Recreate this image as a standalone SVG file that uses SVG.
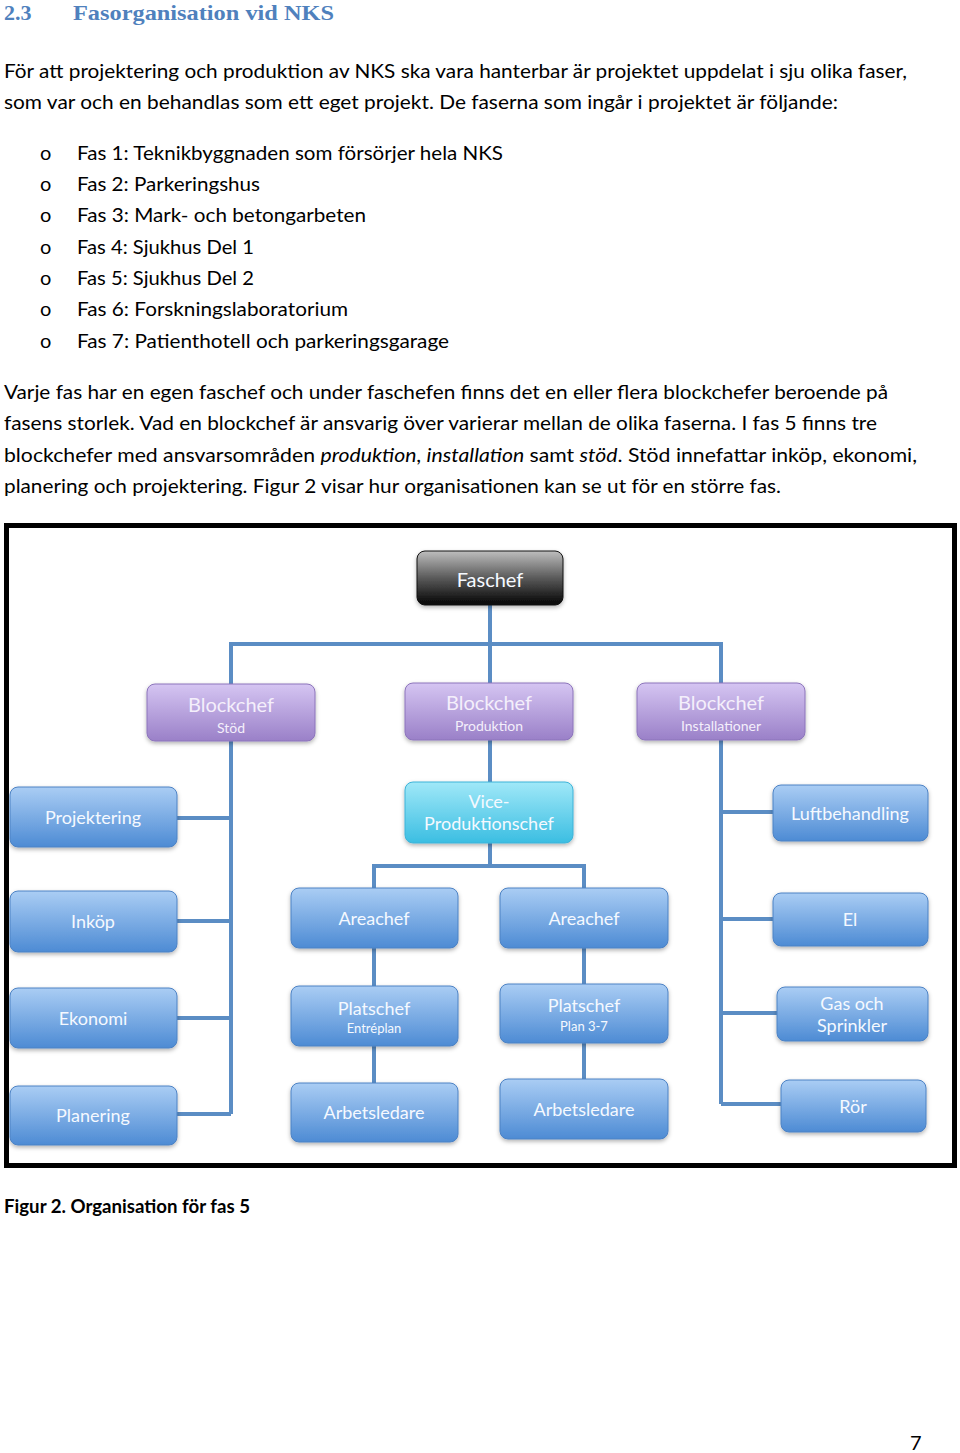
<svg xmlns="http://www.w3.org/2000/svg" width="960" height="1453" viewBox="0 0 960 1453">
<style>
.h{font-family:"Liberation Serif",serif;font-weight:bold;font-size:22px;fill:#4F81BD}
.b{font-family:Lato,"Noto Sans",sans-serif;font-size:20px;fill:#000}
.cap{font-family:Lato,"Noto Sans",sans-serif;font-size:18px;font-weight:bold;fill:#000}
.t{font-family:Lato,"Open Sans",sans-serif;text-anchor:middle;fill:#F5F9FF}
.t18{font-size:18px}
.t20{font-size:20px}
.t14{font-size:14px}
.t13{font-size:13px}
.tp{fill:#F4EFFB}
.blue{fill:url(#gBlue);stroke:#4C82C4;stroke-width:1;filter:url(#sh)}
.purp{fill:url(#gPurp);stroke:#8C74BB;stroke-width:1;filter:url(#sh)}
.cyan{fill:url(#gCyan);stroke:#3DB3D8;stroke-width:1;filter:url(#sh)}
.blk{fill:url(#gBlk);stroke:#111;stroke-width:1;filter:url(#sh)}
.c{fill:none;stroke:#5B8DC4;stroke-width:4}
</style>
<defs>
<linearGradient id="gBlue" x1="0" y1="0" x2="0" y2="1"><stop offset="0" stop-color="#AACDF4"/><stop offset="1" stop-color="#4D8BD4"/></linearGradient>
<linearGradient id="gPurp" x1="0" y1="0" x2="0" y2="1"><stop offset="0" stop-color="#D5C5F2"/><stop offset="1" stop-color="#9A80C8"/></linearGradient>
<linearGradient id="gCyan" x1="0" y1="0" x2="0" y2="1"><stop offset="0" stop-color="#A0E8F8"/><stop offset="1" stop-color="#3BBEE2"/></linearGradient>
<linearGradient id="gBlk" x1="0" y1="0" x2="0" y2="1"><stop offset="0" stop-color="#BEBEBE"/><stop offset="0.5" stop-color="#5A5A5A"/><stop offset="1" stop-color="#030303"/></linearGradient>
<filter id="sh" x="-10%" y="-20%" width="120%" height="150%"><feDropShadow dx="0" dy="2" stdDeviation="2" flood-color="#000" flood-opacity="0.3"/></filter>
</defs>
<rect width="960" height="1453" fill="#fff"/>

<g id="heading">
<text class="h" x="4" y="20">2.3</text>
<text class="h" x="73" y="20" textLength="261" lengthAdjust="spacingAndGlyphs">Fasorganisation vid NKS</text>
</g>

<g id="body">
<text class="b" x="4" y="78" textLength="903" lengthAdjust="spacingAndGlyphs">För att projektering och produktion av NKS ska vara hanterbar är projektet uppdelat i sju olika faser,</text>
<text class="b" x="4" y="109" textLength="834" lengthAdjust="spacingAndGlyphs">som var och en behandlas som ett eget projekt. De faserna som ingår i projektet är följande:</text>
<text class="b" x="40" y="160">o</text><text class="b" x="77" y="160" textLength="426" lengthAdjust="spacingAndGlyphs">Fas 1: Teknikbyggnaden som försörjer hela NKS</text>
<text class="b" x="40" y="191">o</text><text class="b" x="77" y="191" textLength="183" lengthAdjust="spacingAndGlyphs">Fas 2: Parkeringshus</text>
<text class="b" x="40" y="222">o</text><text class="b" x="77" y="222" textLength="289" lengthAdjust="spacingAndGlyphs">Fas 3: Mark- och betongarbeten</text>
<text class="b" x="40" y="254">o</text><text class="b" x="77" y="254" textLength="177" lengthAdjust="spacingAndGlyphs">Fas 4: Sjukhus Del 1</text>
<text class="b" x="40" y="285">o</text><text class="b" x="77" y="285" textLength="177" lengthAdjust="spacingAndGlyphs">Fas 5: Sjukhus Del 2</text>
<text class="b" x="40" y="316">o</text><text class="b" x="77" y="316" textLength="271" lengthAdjust="spacingAndGlyphs">Fas 6: Forskningslaboratorium</text>
<text class="b" x="40" y="348">o</text><text class="b" x="77" y="348" textLength="372" lengthAdjust="spacingAndGlyphs">Fas 7: Patienthotell och parkeringsgarage</text>
<text class="b" x="4" y="399" textLength="884" lengthAdjust="spacingAndGlyphs">Varje fas har en egen faschef och under faschefen finns det en eller flera blockchefer beroende på</text>
<text class="b" x="4" y="430" textLength="873" lengthAdjust="spacingAndGlyphs">fasens storlek. Vad en blockchef är ansvarig över varierar mellan de olika faserna. I fas 5 finns tre</text>
<text class="b" x="4" y="462" textLength="913" lengthAdjust="spacingAndGlyphs">blockchefer med ansvarsområden <tspan font-style="italic">produktion</tspan>, <tspan font-style="italic">installation</tspan> samt <tspan font-style="italic">stöd</tspan>. Stöd innefattar inköp, ekonomi,</text>
<text class="b" x="4" y="493" textLength="777" lengthAdjust="spacingAndGlyphs">planering och projektering. Figur 2 visar hur organisationen kan se ut för en större fas.</text>
</g>

<rect id="frame" x="6.5" y="525.5" width="948" height="640" fill="none" stroke="#000" stroke-width="5"/>

<g id="connectors">
<path class="c" d="M490 605 V683"/>
<path class="c" d="M231 684 V644 H721 V683"/>
<path class="c" d="M231 741 V1114"/>
<path class="c" d="M177 818 H231 M177 921 H231 M177 1018 H231 M177 1114 H231"/>
<path class="c" d="M490 740 V782 M490 842 V866"/>
<path class="c" d="M374 888 V866 H584 V888"/>
<path class="c" d="M374 948 V986 M374 1046 V1083 M584 948 V984 M584 1043 V1079"/>
<path class="c" d="M721 740 V1104"/>
<path class="c" d="M721 812 H773 M721 919 H773 M721 1013 H777 M721 1104 H781"/>
</g>

<g id="faschef"><rect class="blk" x="417" y="551" width="146" height="54" rx="8"/><text class="t t20" x="490" y="587">Faschef</text></g>

<g id="blockchef-stod"><rect class="purp" x="147" y="684" width="168" height="57" rx="8"/><text class="t t20 tp" x="231" y="712">Blockchef</text><text class="t t14 tp" x="231" y="733">Stöd</text></g>
<g id="blockchef-produktion"><rect class="purp" x="405" y="683" width="168" height="57" rx="8"/><text class="t t20 tp" x="489" y="710">Blockchef</text><text class="t t14 tp" x="489" y="731">Produktion</text></g>
<g id="blockchef-installationer"><rect class="purp" x="637" y="683" width="168" height="57" rx="8"/><text class="t t20 tp" x="721" y="710">Blockchef</text><text class="t t14 tp" x="721" y="731">Installationer</text></g>

<g id="projektering"><rect class="blue" x="10" y="787" width="167" height="60" rx="8"/><text class="t t18" x="93" y="824">Projektering</text></g>
<g id="vice"><rect class="cyan" x="405" y="782" width="168" height="61" rx="8"/><text class="t t18" x="489" y="808">Vice-</text><text class="t t18" x="489" y="830">Produktionschef</text></g>
<g id="luftbehandling"><rect class="blue" x="773" y="785" width="155" height="56" rx="8"/><text class="t t18" x="850" y="820">Luftbehandling</text></g>

<g id="inkop"><rect class="blue" x="10" y="891" width="167" height="61" rx="8"/><text class="t t18" x="93" y="928">Inköp</text></g>
<g id="areachef1"><rect class="blue" x="291" y="888" width="167" height="60" rx="8"/><text class="t t18" x="374" y="925">Areachef</text></g>
<g id="areachef2"><rect class="blue" x="500" y="888" width="168" height="60" rx="8"/><text class="t t18" x="584" y="925">Areachef</text></g>
<g id="el"><rect class="blue" x="773" y="893" width="155" height="53" rx="8"/><text class="t t18" x="850" y="926">El</text></g>

<g id="ekonomi"><rect class="blue" x="10" y="988" width="167" height="60" rx="8"/><text class="t t18" x="93" y="1025">Ekonomi</text></g>
<g id="platschef1"><rect class="blue" x="291" y="986" width="167" height="60" rx="8"/><text class="t t18" x="374" y="1015">Platschef</text><text class="t t13" x="374" y="1033">Entréplan</text></g>
<g id="platschef2"><rect class="blue" x="500" y="984" width="168" height="59" rx="8"/><text class="t t18" x="584" y="1012">Platschef</text><text class="t t13" x="584" y="1031">Plan 3-7</text></g>
<g id="gas"><rect class="blue" x="777" y="987" width="151" height="54" rx="8"/><text class="t t18" x="852" y="1010">Gas och</text><text class="t t18" x="852" y="1032">Sprinkler</text></g>

<g id="planering"><rect class="blue" x="10" y="1086" width="167" height="59" rx="8"/><text class="t t18" x="93" y="1122">Planering</text></g>
<g id="arbetsledare1"><rect class="blue" x="291" y="1083" width="167" height="59" rx="8"/><text class="t t18" x="374" y="1119">Arbetsledare</text></g>
<g id="arbetsledare2"><rect class="blue" x="500" y="1079" width="168" height="60" rx="8"/><text class="t t18" x="584" y="1116">Arbetsledare</text></g>
<g id="ror"><rect class="blue" x="781" y="1080" width="145" height="52" rx="8"/><text class="t t18" x="853" y="1113">Rör</text></g>

<text class="cap" x="4" y="1213" textLength="246" lengthAdjust="spacingAndGlyphs">Figur 2. Organisation för fas 5</text>
<text class="b" x="910" y="1450">7</text>
</svg>
